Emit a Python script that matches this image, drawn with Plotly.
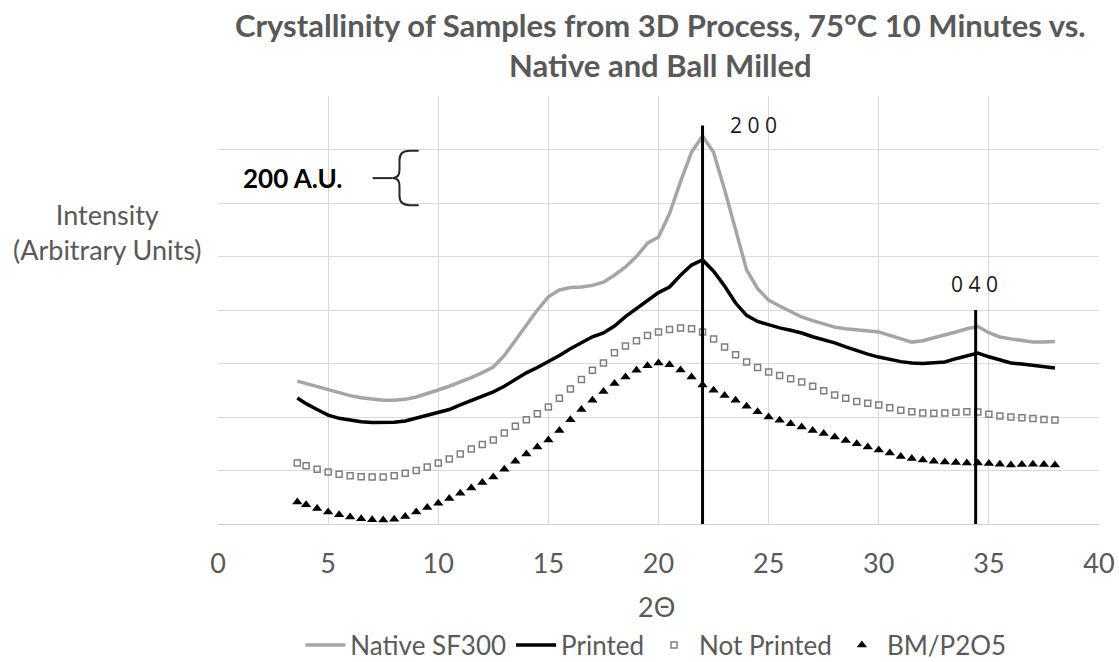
import plotly.graph_objects as go

# ---- data ----
two_theta = [3.6, 4.0, 4.5, 5.0, 5.5, 6.0, 6.5, 7.0, 7.5, 8.0, 8.5, 9.0, 9.5, 10.0,
             10.5, 11.0, 11.5, 12.0, 12.5, 13.0, 13.5, 14.0, 14.5, 15.0, 15.5, 16.0,
             16.5, 17.0, 17.5, 18.0, 18.5, 19.0, 19.5, 20.0, 20.5, 21.0, 21.5, 22.0,
             22.5, 23.0, 23.5, 24.0, 24.5, 25.0, 25.5, 26.0, 26.5, 27.0, 27.5, 28.0,
             28.5, 29.0, 29.5, 30.0, 30.5, 31.0, 31.5, 32.0, 32.5, 33.0, 33.5, 34.0,
             34.5, 35.0, 35.5, 36.0, 36.5, 37.0, 37.5, 38.0]

native_sf300 = [534, 525, 513, 502, 490, 480, 472, 467, 463, 463, 466, 475, 487, 501,
                515, 530, 547, 566, 587, 630, 688, 745, 800, 849, 875, 884,
                886, 892, 904, 930, 961, 1000, 1050, 1073, 1160, 1280, 1390, 1450,
                1390, 1250, 1100, 950, 880, 837, 815, 795, 774, 760, 748, 736,
                730, 725, 720, 718, 705, 692, 680, 685, 695, 706, 718, 730,
                738, 715, 699, 692, 686, 680, 680, 682]

printed = [471, 450, 428, 407, 395, 387, 382, 379, 378, 380, 385, 395, 405, 415,
           428, 445, 462, 478, 494, 515, 540, 565, 585, 606, 630, 655,
           678, 700, 714, 740, 775, 805, 835, 865, 886, 930, 968, 987,
           945, 890, 826, 780, 757, 744, 733, 724, 714, 700, 689, 677,
           662, 648, 635, 624, 615, 607, 602, 600, 603, 606, 618, 630,
           639, 625, 612, 602, 598, 592, 588, 583]

not_printed = [228, 218, 205, 194, 186, 180, 177, 176, 176, 180, 190, 200, 213, 228,
               243, 262, 280, 297, 314, 340, 365, 390, 412, 437, 470, 505,
               540, 575, 602, 640, 665, 685, 705, 718, 727, 733, 730, 718,
               692, 662, 633, 606, 585, 568, 555, 543, 531, 515, 498, 482,
               470, 458, 451, 445, 435, 425, 420, 415, 414, 415, 418, 420,
               419, 410, 404, 400, 397, 394, 391, 389]

bm_p2o5 = [82, 72, 58, 45, 35, 26, 20, 16, 15, 18, 28, 45, 62, 78,
           95, 115, 135, 155, 176, 205, 235, 262, 288, 314, 350, 390,
           428, 463, 495, 525, 550, 575, 592, 602, 595, 576, 550, 520,
           500, 480, 463, 440, 420, 400, 388, 375, 363, 350, 338, 325,
           312, 300, 288, 277, 265, 252, 245, 239, 235, 232, 230, 228,
           228, 226, 223, 221, 222, 223, 222, 221]

peak_labels = ["2 0 0", "0 4 0"]
peak_pos = [22.0, 34.4]
peak_top = [1490, 800]

x_ticks = [0, 5, 10, 15, 20, 25, 30, 35, 40]

title_lines = ["Crystallinity of Samples from 3D Process, 75°C 10 Minutes vs.",
               "Native and Ball Milled"]

GRAY_TXT = "#595959"
FONT = "Lato"

fig = go.Figure()
fig.add_trace(go.Scatter(x=two_theta, y=native_sf300, mode="lines", name="Native SF300",
                         line=dict(color="#a5a5a5", width=3.5)))
fig.add_trace(go.Scatter(x=two_theta, y=printed, mode="lines", name="Printed",
                         line=dict(color="#000000", width=3.5)))
fig.add_trace(go.Scatter(x=two_theta, y=not_printed, mode="markers", name="Not Printed",
                         marker=dict(symbol="square-open", size=6, color="#7f7f7f",
                                     line=dict(width=1.5, color="#7f7f7f"))))
fig.add_trace(go.Scatter(x=two_theta, y=bm_p2o5, mode="markers", name="BM/P2O5",
                         marker=dict(symbol="triangle-up", size=9, color="#000000")))

# peak reference lines and labels
for lab, px, top in zip(peak_labels, peak_pos, peak_top):
    fig.add_shape(type="line", xref="x", yref="y", x0=px, x1=px, y0=-12, y1=top,
                  line=dict(color="#000000", width=3))
    fig.add_annotation(x=px, y=top, xref="x", yref="y", text=lab, showarrow=False,
                       xanchor="left", yanchor="middle", xshift=25 if px < 30 else -27,
                       yshift=0 if px < 30 else 26,
                       font=dict(family="Open Sans", size=21, color="#1a1a1a"))

# scale bracket "200 A.U."
fig.add_shape(type="path", xref="x", yref="y",
              path="M 9.11,1395 L 8.7,1395 Q 8.24,1395 8.24,1360 L 8.24,1322 "
                   "Q 8.24,1293 7.93,1293 Q 8.24,1293 8.24,1264 L 8.24,1226 "
                   "Q 8.24,1192 8.7,1192 L 9.11,1192",
              line=dict(color="#262626", width=2))
fig.add_shape(type="line", xref="x", yref="y", x0=7.02, x1=7.93, y0=1293, y1=1293,
              line=dict(color="#262626", width=2))
fig.add_annotation(x=5.75, y=1293, xref="x", yref="y", text="<b>200 A.U.</b>",
                   showarrow=False, xanchor="right", yanchor="middle",
                   font=dict(family=FONT, size=26, color="#000000"))

# title (two centred lines)
for i, line in enumerate(title_lines):
    fig.add_annotation(x=0.502, y=(524 - 25 - 40 * i) / 428, xref="paper", yref="paper",
                       text="<b>" + line + "</b>", showarrow=False,
                       xanchor="center", yanchor="middle",
                       font=dict(family=FONT, size=31, color=GRAY_TXT))

# axis titles
fig.add_annotation(x=-0.125, y=0.682, xref="paper", yref="paper",
                   text="Intensity<br>(Arbitrary Units)", showarrow=False,
                   xanchor="center", yanchor="middle", align="center",
                   font=dict(family=FONT, size=27, color=GRAY_TXT))
fig.add_annotation(x=0.498, y=(524 - 606) / 428, xref="paper", yref="paper", text="2Θ",
                   showarrow=False, xanchor="center", yanchor="middle",
                   font=dict(family=FONT, size=27, color=GRAY_TXT))

fig.update_layout(
    width=1119, height=662,
    margin=dict(l=218, r=20, t=96, b=138, autoexpand=False),
    paper_bgcolor="white", plot_bgcolor="white",
    legend=dict(orientation="h", x=0.497, xanchor="center", y=(524 - 645) / 428,
                yanchor="middle",
                font=dict(family=FONT, size=26, color=GRAY_TXT),
                itemwidth=40, tracegroupgap=0, bgcolor="rgba(0,0,0,0)"),
    xaxis=dict(range=[0, 40], tickvals=x_ticks, showgrid=True, gridcolor="#d9d9d9",
               gridwidth=1, zeroline=False, showline=True, linecolor="#d0d0d0",
               ticks="", ticklabelstandoff=16,
               tickfont=dict(family=FONT, size=27, color=GRAY_TXT)),
    yaxis=dict(range=[0, 1600], dtick=200, showgrid=True, gridcolor="#d9d9d9",
               gridwidth=1, zeroline=False, showline=False, showticklabels=False,
               ticks=""),
)

fig.write_html("out.html")
